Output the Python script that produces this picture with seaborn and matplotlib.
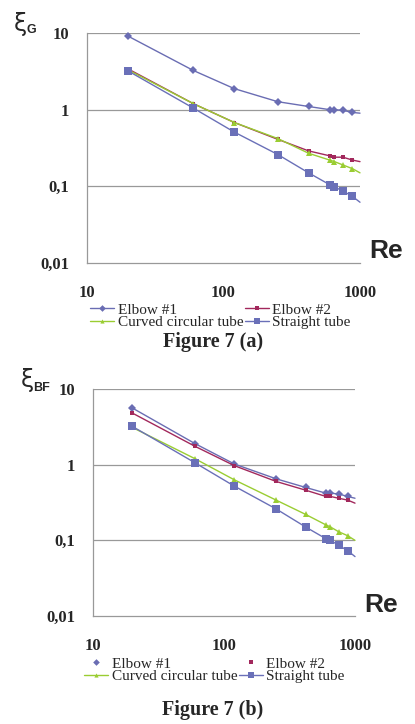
import matplotlib
matplotlib.use("Agg")
import matplotlib.pyplot as plt
import seaborn as sns
import pandas as pd
from matplotlib.lines import Line2D

sns.set_style("white")
plt.rcParams['font.family'] = ['DejaVu Sans']

re_vals = [20, 60, 120, 250, 420, 600, 650, 750, 880, 1000]
series_names = ["Elbow #1", "Elbow #2", "Curved circular tube", "Straight tube"]

# Figure 7 (a): xi_G
xiG_elbow1 = [9.1, 3.25, 1.88, 1.27, 1.1, 1.0, 1.0, 0.98, 0.92, 0.9]
xiG_elbow2 = [3.4, 1.2, 0.68, 0.41, 0.29, 0.25, 0.24, 0.24, 0.22, 0.21]
xiG_curved = [3.3, 1.2, 0.68, 0.42, 0.27, 0.22, 0.21, 0.19, 0.17, 0.15]
xiG_straight = [3.2, 1.05, 0.51, 0.26, 0.15, 0.105, 0.098, 0.087, 0.074, 0.062]

# Figure 7 (b): xi_BF
xiBF_elbow1 = [5.6, 1.9, 1.02, 0.65, 0.5, 0.42, 0.42, 0.41, 0.38, 0.36]
xiBF_elbow2 = [4.8, 1.75, 0.97, 0.6, 0.46, 0.38, 0.38, 0.36, 0.34, 0.31]
xiBF_curved = [3.1, 1.2, 0.63, 0.34, 0.22, 0.16, 0.15, 0.13, 0.115, 0.1]
xiBF_straight = [3.2, 1.06, 0.52, 0.26, 0.15, 0.105, 0.1, 0.086, 0.073, 0.061]

y_ticks = [0.01, 0.1, 1, 10]
y_ticklabels = ["0,01", "0,1", "1", "10"]
x_ticks = [10, 100, 1000]
x_ticklabels = ["10", "100", "1000"]

colors = ["#6a6db3", "#a2285c", "#9acd32", "#6a70b8"]
markers = ["D", "s", "^", "s"]
msizes = [4.5, 3.0, 4, 5.5]

serif = ["Liberation Serif", "DejaVu Serif"]

fig = plt.figure(figsize=(4.15, 7.24), dpi=100)

def draw(ax, ys, leg_pos, elbow_line):
    for name, y, c, m, ms in zip(series_names, ys, colors, markers, msizes):
        df = pd.DataFrame({"Re": re_vals, "xi": y})
        sns.lineplot(data=df, x="Re", y="xi", ax=ax, color=c, marker=m,
                     markersize=ms, markeredgewidth=0, linewidth=1.0,
                     markevery=list(range(len(re_vals) - 1)), clip_on=False,
                     sort=False, estimator=None)
    ax.set_xscale("log")
    ax.set_yscale("log")
    ax.set_xlim(10, 1000)
    ax.set_ylim(0.01, 10)
    ax.minorticks_off()
    ax.set_yticks(y_ticks)
    ax.set_yticklabels(y_ticklabels)
    ax.set_xticks(x_ticks)
    ax.set_xticklabels(x_ticklabels)
    for t in ax.get_xticklabels() + ax.get_yticklabels():
        t.set_fontfamily(serif)
        t.set_fontweight("bold")
        t.set_fontsize(12)
    ax.tick_params(axis="x", direction="inout", length=5, color="#999999", pad=13, width=0.8)
    ax.tick_params(axis="y", direction="out", length=3, color="#999999", pad=10, width=0.8)
    for v in [0.1, 1, 10]:
        ax.axhline(v, color="#999999", linewidth=0.9, zorder=0)
    for s in ["top", "right"]:
        ax.spines[s].set_visible(False)
    for s in ["left", "bottom"]:
        ax.spines[s].set_color("#999999")
        ax.spines[s].set_linewidth(0.9)
    ax.set_xlabel("")
    ax.set_ylabel("")
    ax.text(1.035, 0.05, "Re", transform=ax.transAxes, fontsize=19,
            fontweight="bold", family="Liberation Sans", ha="left", va="center")
    handles = []
    for i, (name, c, m, ms) in enumerate(zip(series_names, colors, markers, msizes)):
        ls = "-" if (elbow_line or i >= 2) else "none"
        handles.append(Line2D([], [], color=c, marker=m, markersize=ms * 0.75,
                              markeredgewidth=0, linewidth=1.0, linestyle=ls))
    order = [0, 2, 1, 3]
    fig.legend([handles[i] for i in order], [series_names[i] for i in order],
               ncol=2, loc="upper left", bbox_to_anchor=leg_pos,
               frameon=False, prop={"family": serif, "size": 11},
               handlelength=1.6, handletextpad=0.2, columnspacing=0.1,
               labelspacing=-0.1, borderpad=0, borderaxespad=0)

ax1 = fig.add_axes([87 / 415, 1 - 263 / 724, 273 / 415, 230 / 724])
draw(ax1, [xiG_elbow1, xiG_elbow2, xiG_curved, xiG_straight],
     (90 / 415, 1 - 303 / 724), True)
ax2 = fig.add_axes([93 / 415, 1 - 616 / 724, 262 / 415, 227 / 724])
draw(ax2, [xiBF_elbow1, xiBF_elbow2, xiBF_curved, xiBF_straight],
     (84 / 415, 1 - 657 / 724), False)

# y-axis symbols
fig.text(14 / 415, 1 - 24 / 724, "ξ", fontsize=17, family="DejaVu Sans", ha="left", va="center")
fig.text(26 / 415, 1 - 30 / 724, "G", fontsize=9, fontweight="bold", family="Liberation Sans", ha="left", va="center")
fig.text(21 / 415, 1 - 380 / 724, "ξ", fontsize=17, family="DejaVu Sans", ha="left", va="center")
fig.text(33 / 415, 1 - 388 / 724, "BF", fontsize=9, fontweight="bold", family="Liberation Sans", ha="left", va="center")

# captions
fig.text(213 / 415, 1 - 342 / 724, "Figure 7 (a)", fontsize=14.5, fontweight="bold",
         family=serif, ha="center", va="center")
fig.text(213 / 415, 1 - 710 / 724, "Figure 7 (b)", fontsize=14.5, fontweight="bold",
         family=serif, ha="center", va="center")

fig.savefig("out.png", dpi=100)
